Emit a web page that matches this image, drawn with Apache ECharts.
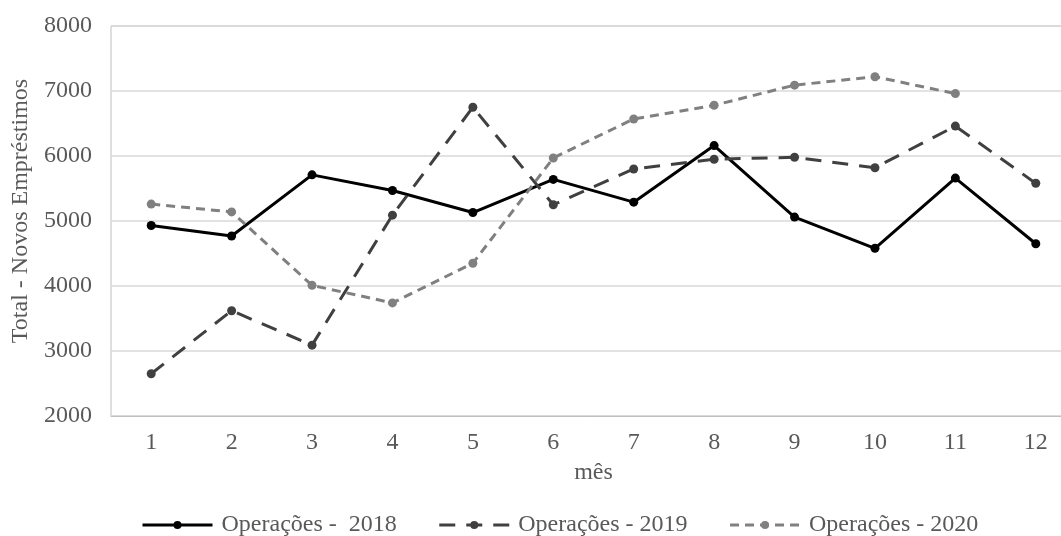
<!DOCTYPE html>
<html>
<head>
<meta charset="utf-8">
<script src="https://cdn.jsdelivr.net/npm/echarts@6/dist/echarts.min.js"></script>
<style>
  html, body { margin: 0; padding: 0; background: #fff; }
  #chart { width: 1061px; height: 536px; }
</style>
</head>
<body>
<div id="chart"></div>
<script>
// meses
var months = ['1', '2', '3', '4', '5', '6', '7', '8', '9', '10', '11', '12'];
var ops2018 = [4930, 4770, 5710, 5470, 5130, 5640, 5290, 6160, 5060, 4580, 5660, 4650];
var ops2019 = [2650, 3620, 3090, 5090, 6750, 5250, 5800, 5950, 5980, 5820, 6460, 5580];
var ops2020 = [5260, 5140, 4010, 3740, 4350, 5970, 6570, 6780, 7090, 7220, 6960, null];
var seriesNames = ['Operações -  2018', 'Operações - 2019', 'Operações - 2020'];

var font = 'Liberation Serif';
var txtColor = '#595959';
var chart = echarts.init(document.getElementById('chart'));

function mkSeries(name, data, color, dash) {
    return {
        name: name,
        type: 'line',
        data: data,
        symbol: 'circle',
        symbolSize: 9,
        itemStyle: { color: color },
        lineStyle: { color: color, width: 3, type: dash },
        animation: false
    };
}

chart.setOption({
    grid: {
        left: 111,
        top: 26,
        width: 965,
        height: 390,
        outerBoundsMode: 'none',
        containLabel: false,
        show: true,
        borderColor: '#bfbfbf',
        borderWidth: 1
    },
    xAxis: {
        type: 'category',
        data: months,
        name: 'mês',
        nameLocation: 'middle',
        nameGap: 45,
        nameTextStyle: { fontFamily: font, fontSize: 24, color: txtColor },
        axisLabel: { fontFamily: font, fontSize: 24, color: txtColor, margin: 15 },
        axisTick: { show: false },
        axisLine: { lineStyle: { color: '#bfbfbf' } }
    },
    yAxis: {
        type: 'value',
        min: 2000,
        max: 8000,
        interval: 1000,
        name: 'Total - Novos Empréstimos',
        nameLocation: 'middle',
        nameGap: 77,
        nameTextStyle: { fontFamily: font, fontSize: 24, color: txtColor, padding: [0, 0, 0, 20] },
        axisLabel: {
            fontFamily: font, fontSize: 24, color: txtColor, margin: 19,
            formatter: function (v) { return String(v); }
        },
        axisLine: { show: false },
        axisTick: { show: false },
        splitLine: { lineStyle: { color: '#d9d9d9', width: 1.5 } }
    },
    legend: {
        top: 508,
        left: 136,
        itemWidth: 70,
        itemHeight: 10,
        itemGap: 41,
        lineStyle: { width: 3 },
        textStyle: { fontFamily: font, fontSize: 24, color: txtColor, padding: [0, 0, 0, 4] },
        data: seriesNames
    },
    series: [
        mkSeries(seriesNames[0], ops2018, '#000000', 'solid'),
        mkSeries(seriesNames[1], ops2019, '#404040', [16, 11]),
        mkSeries(seriesNames[2], ops2020, '#808080', [9, 6])
    ]
});
</script>
</body>
</html>
